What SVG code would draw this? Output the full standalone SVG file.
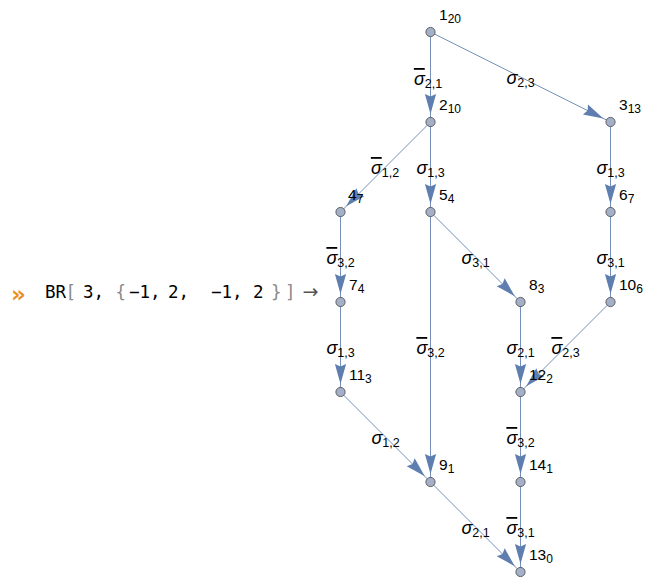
<svg xmlns="http://www.w3.org/2000/svg" width="645" height="580" viewBox="0 0 645 580">
<style>
.e{stroke:#7590bb;stroke-width:1;fill:none;marker-end:url(#ah)}
.n{fill:#a3b0c8;stroke:#555;stroke-width:0.9}
.nl{font-family:"Liberation Sans",Arial,sans-serif;font-size:15.5px;fill:#000}
.nl .s{font-size:12px}
.el{font-family:"Liberation Sans",Arial,sans-serif;font-size:12.5px;fill:#000;text-anchor:middle}
.el .g{font-size:18px;font-style:italic}
.el .b{text-decoration:overline}
.code{font-family:"DejaVu Sans Mono",monospace;font-size:17.5px;fill:#000}
.br{fill:#8a8a8a;font-weight:300}
</style>
<defs>
<marker id="ah" markerUnits="userSpaceOnUse" markerWidth="30" markerHeight="30" refX="8" refY="0" orient="auto" overflow="visible">
<path d="M-20,-5.6 L0,0 L-20,5.6 L-17.5,0 Z" fill="#5d7eae"/>
</marker>
</defs>
<g id="input">
<text x="11" y="302" font-family="DejaVu Sans,sans-serif" font-size="23" font-weight="bold" fill="#ea8f1f">»</text>
<text class="code" y="298"><tspan x="45">BR</tspan><tspan x="65.5" class="br">[</tspan><tspan x="83">3,</tspan><tspan x="115.5" class="br">{</tspan><tspan x="129">−1,</tspan><tspan x="168">2,</tspan><tspan x="211">−1,</tspan><tspan x="253">2</tspan><tspan x="271" class="br">}</tspan><tspan x="285" class="br">]</tspan></text>
<text x="310.5" y="298" font-family="DejaVu Sans,sans-serif" font-size="19" fill="#555" text-anchor="middle">→</text>
</g>
<g id="edges">
<line class="e" x1="430.5" y1="32" x2="430.5" y2="122"/>
<line class="e" x1="430.5" y1="32" x2="610.5" y2="122"/>
<line class="e" x1="430.5" y1="122" x2="340.5" y2="212"/>
<line class="e" x1="430.5" y1="122" x2="430.5" y2="212"/>
<line class="e" x1="610.5" y1="122" x2="610.5" y2="212"/>
<line class="e" x1="340.5" y1="212" x2="340.5" y2="302"/>
<line class="e" x1="430.5" y1="212" x2="430.5" y2="482"/>
<line class="e" x1="430.5" y1="212" x2="520.5" y2="302"/>
<line class="e" x1="610.5" y1="212" x2="610.5" y2="302"/>
<line class="e" x1="340.5" y1="302" x2="340.5" y2="392"/>
<line class="e" x1="520.5" y1="302" x2="520.5" y2="392"/>
<line class="e" x1="610.5" y1="302" x2="520.5" y2="392"/>
<line class="e" x1="340.5" y1="392" x2="430.5" y2="482"/>
<line class="e" x1="520.5" y1="392" x2="520.5" y2="482"/>
<line class="e" x1="430.5" y1="482" x2="520.5" y2="572"/>
<line class="e" x1="520.5" y1="482" x2="520.5" y2="572"/>
<text class="el" x="428" y="85"><tspan class="g b">σ</tspan><tspan dy="3">2,1</tspan></text>
<text class="el" x="520.5" y="84"><tspan class="g">σ</tspan><tspan dy="3">2,3</tspan></text>
<text class="el" x="385" y="174"><tspan class="g b">σ</tspan><tspan dy="3">1,2</tspan></text>
<text class="el" x="430.5" y="174"><tspan class="g">σ</tspan><tspan dy="3">1,3</tspan></text>
<text class="el" x="610.5" y="174"><tspan class="g">σ</tspan><tspan dy="3">1,3</tspan></text>
<text class="el" x="340.5" y="264"><tspan class="g b">σ</tspan><tspan dy="3">3,2</tspan></text>
<text class="el" x="430.5" y="354"><tspan class="g b">σ</tspan><tspan dy="3">3,2</tspan></text>
<text class="el" x="475.5" y="264"><tspan class="g">σ</tspan><tspan dy="3">3,1</tspan></text>
<text class="el" x="610.5" y="264"><tspan class="g">σ</tspan><tspan dy="3">3,1</tspan></text>
<text class="el" x="340.5" y="354"><tspan class="g">σ</tspan><tspan dy="3">1,3</tspan></text>
<text class="el" x="520.5" y="354"><tspan class="g">σ</tspan><tspan dy="3">2,1</tspan></text>
<text class="el" x="565.5" y="354"><tspan class="g b">σ</tspan><tspan dy="3">2,3</tspan></text>
<text class="el" x="385.5" y="444"><tspan class="g">σ</tspan><tspan dy="3">1,2</tspan></text>
<text class="el" x="520.5" y="444"><tspan class="g b">σ</tspan><tspan dy="3">3,2</tspan></text>
<text class="el" x="475.5" y="534"><tspan class="g">σ</tspan><tspan dy="3">2,1</tspan></text>
<text class="el" x="520.5" y="534"><tspan class="g b">σ</tspan><tspan dy="3">3,1</tspan></text>
</g>
<g id="n1"><circle class="n" cx="430.5" cy="32" r="4.6"/><text class="nl" x="439" y="20">1<tspan class="s" dy="2.5">20</tspan></text></g>
<g id="n2"><circle class="n" cx="430.5" cy="122" r="4.6"/><text class="nl" x="439" y="110">2<tspan class="s" dy="2.5">10</tspan></text></g>
<g id="n3"><circle class="n" cx="610.5" cy="122" r="4.6"/><text class="nl" x="619" y="110">3<tspan class="s" dy="2.5">13</tspan></text></g>
<g id="n4"><circle class="n" cx="340.5" cy="212" r="4.6"/><text class="nl" x="348" y="200">4<tspan class="s" dy="2.5">7</tspan></text></g>
<g id="n5"><circle class="n" cx="430.5" cy="212" r="4.6"/><text class="nl" x="439" y="200">5<tspan class="s" dy="2.5">4</tspan></text></g>
<g id="n6"><circle class="n" cx="610.5" cy="212" r="4.6"/><text class="nl" x="619" y="200">6<tspan class="s" dy="2.5">7</tspan></text></g>
<g id="n7"><circle class="n" cx="340.5" cy="302" r="4.6"/><text class="nl" x="349" y="290">7<tspan class="s" dy="2.5">4</tspan></text></g>
<g id="n8"><circle class="n" cx="520.5" cy="302" r="4.6"/><text class="nl" x="529" y="290">8<tspan class="s" dy="2.5">3</tspan></text></g>
<g id="n10"><circle class="n" cx="610.5" cy="302" r="4.6"/><text class="nl" x="619" y="290">10<tspan class="s" dy="2.5">6</tspan></text></g>
<g id="n11"><circle class="n" cx="340.5" cy="392" r="4.6"/><text class="nl" x="349" y="380">11<tspan class="s" dy="2.5">3</tspan></text></g>
<g id="n12"><circle class="n" cx="520.5" cy="392" r="4.6"/><text class="nl" x="529" y="380">12<tspan class="s" dy="2.5">2</tspan></text></g>
<g id="n9"><circle class="n" cx="430.5" cy="482" r="4.6"/><text class="nl" x="439" y="470">9<tspan class="s" dy="2.5">1</tspan></text></g>
<g id="n14"><circle class="n" cx="520.5" cy="482" r="4.6"/><text class="nl" x="529" y="470">14<tspan class="s" dy="2.5">1</tspan></text></g>
<g id="n13"><circle class="n" cx="520.5" cy="572" r="4.6"/><text class="nl" x="529" y="560">13<tspan class="s" dy="2.5">0</tspan></text></g>
</svg>
